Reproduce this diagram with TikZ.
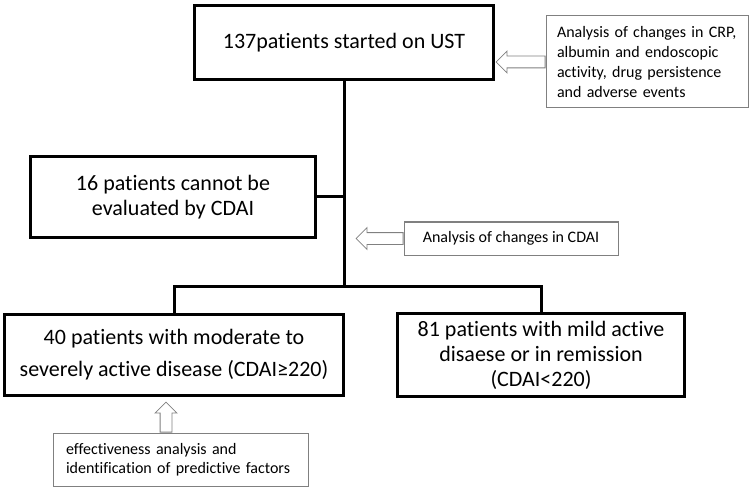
\documentclass[tikz,border=0pt]{standalone}
\usepackage{fontspec}
\setmainfont{Carlito}[Ligatures=NoCommon]
\usetikzlibrary{arrows.meta, positioning, shapes.arrows}
\definecolor{boxgray}{HTML}{808080}

\begin{document}
\begin{tikzpicture}[x=1pt, y=-1pt,
  mainbox/.style={draw, line width=3pt, align=center, inner sep=0pt, font=\fontsize{22}{25}\selectfont},
  notebox/.style={draw=boxgray, line width=1pt, inner sep=0pt, font=\fontsize{16}{20}\selectfont},
  hollow/.style={single arrow, draw=boxgray, fill=white, line width=0.8pt, inner xsep=0pt, inner ysep=5.5pt,
    single arrow head extend=5pt},
  link/.style={line width=3pt}]
  \useasboundingbox (0,0) rectangle (752,489);

  \node[mainbox, minimum width=299pt, minimum height=74pt] at (344, 42.5)(start){137patients started on UST};
  \node[notebox, minimum width=202pt, minimum height=92pt, text width=180pt, align=left] at (647, 62)(crp){%
    Analysis of changes in CRP,\\albumin and endoscopic\\activity, drug persistence\\and adverse events};
  \node[mainbox, minimum width=285pt, minimum height=81pt] at (173, 197)(excl){16 patients cannot be\\evaluated by CDAI};
  \node[notebox, minimum width=214pt, minimum height=33pt] at (511, 238.5)(cdai){Analysis of changes in CDAI};
  \node[mainbox, minimum width=339pt, minimum height=81pt, font=\fontsize{22}{32}\selectfont] at (174, 355)(mod){%
    40 patients with moderate to\\severely active disease (CDAI≥220)};
  \node[mainbox, minimum width=287pt, minimum height=83pt] at (541, 355)(mild){%
    81 patients with mild active\\disaese or in remission\\(CDAI<220)};
  \node[notebox, minimum width=255pt, minimum height=53pt, text width=229pt, align=left,
    font=\fontsize{16}{19}\selectfont] at (180.5, 459.5)(pred){%
    effectiveness analysis and\\identification of predictive factors};

  % tree lines
  \coordinate (split) at (344, 286);
  \draw[link] (start) -- (split);
  \draw[link] (mod.north) |- (split) -| (mild.north);
  \draw[link] (excl.east) -- (excl.east -| split);

  % hollow arrows
  \node[hollow, shape border rotate=180, minimum height=49pt, left=0pt of crp](crparrow){};
  \node[hollow, shape border rotate=180, minimum height=47pt, left=0pt of cdai](cdaiarrow){};
  \node[hollow, shape border rotate=90, inner xsep=5.5pt, inner ysep=0pt, minimum height=30pt,
    above=0pt of pred, xshift=-14.5pt](predarrow){};

\end{tikzpicture}
\end{document}
